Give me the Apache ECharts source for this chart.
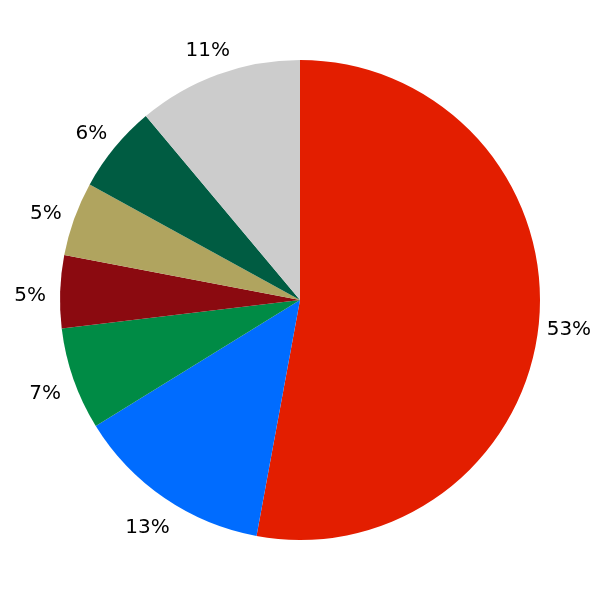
<!DOCTYPE html>
<html><head><meta charset="utf-8">
<script src="https://cdn.jsdelivr.net/npm/echarts@6/dist/echarts.min.js"></script>
<style>html,body{margin:0;padding:0;background:#fff}#c{width:600px;height:600px}</style>
</head><body><div id="c"></div>
<script>
const values = [52.9, 13.3, 6.9, 4.9, 5.0, 5.9, 11.1];
const colors = ['#e31e00', '#006cff', '#008b45', '#8b0a10', '#b0a45f', '#005c42', '#cccccc'];
const CX = 300, CY = 300, R = 240, LR = 270;
const total = values.reduce((a, b) => a + b, 0);
const mids = [];
let acc = 0;
values.forEach(v => { mids.push((acc + v / 2) / total * 2 * Math.PI); acc += v; });
const chart = echarts.init(document.getElementById('c'));
chart.setOption({
  animation: false,
  series: [{
    type: 'pie',
    center: [CX, CY],
    radius: R,
    startAngle: 90,
    clockwise: true,
    data: values.map((v, i) => ({ value: v, itemStyle: { color: colors[i] } })),
    label: {
      show: true,
      position: 'outside',
      fontFamily: 'DejaVu Sans',
      fontSize: 20,
      color: '#000',
      overflow: 'none',
      formatter: p => Math.round(p.percent) + '%'
    },
    labelLine: { show: false },
    labelLayout: p => {
      const a = mids[p.dataIndex];
      return {
        x: CX + LR * Math.sin(a),
        y: CY - LR * Math.cos(a) + 5,
        align: 'center',
        verticalAlign: 'middle'
      };
    }
  }]
});
</script></body></html>
